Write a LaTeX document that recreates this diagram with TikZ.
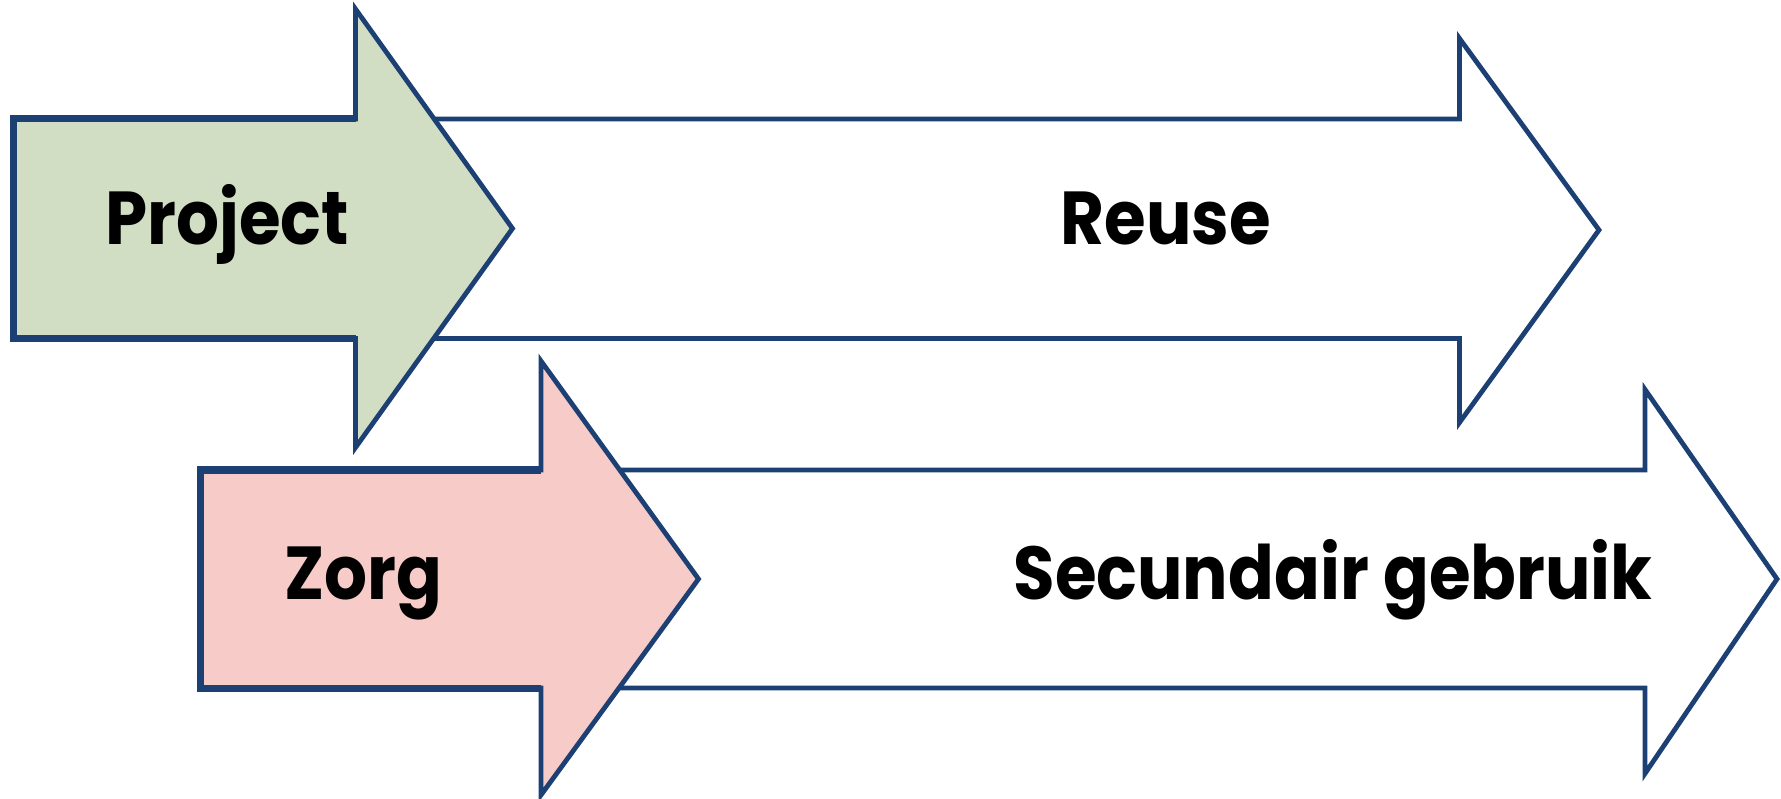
\documentclass[tikz,border=0pt]{standalone}
\usepackage{fontspec}
\setmainfont{Poppins}[BoldFont={* Bold}]
\definecolor{edge}{HTML}{1C3F74}
\definecolor{greenfill}{HTML}{D2DEC4}
\definecolor{pinkfill}{HTML}{F6CBC8}
\tikzset{
  outline/.style={draw=edge, line width=4.8pt, line join=miter, miter limit=20},
  thickside/.style={draw=edge, line width=7pt, line join=miter, line cap=butt},
  whitearrow/.style={outline, fill=white},
  greenarrow/.style={outline, fill=greenfill},
  pinkarrow/.style={outline, fill=pinkfill},
  lbl/.style={anchor=base, inner sep=0pt, transform shape, xscale=0.9, font=\bfseries\fontsize{75}{80}\selectfont, text=black}
}
\begin{document}
\begin{tikzpicture}[x=1pt, y=-1pt]
\useasboundingbox (0,0) rectangle (1781,799);
% Reuse arrow (white, behind)
\draw[whitearrow] (300,119) -- (1459.5,119) -- (1459.5,38.5) -- (1599,230) -- (1459.5,422.5) -- (1459.5,338.5) -- (300,338.5) -- cycle;
% Project arrow (green)
\draw[greenarrow] (13.6,119) -- (355.5,119) -- (355.5,9) -- (512.5,228.5) -- (355.5,447.5) -- (355.5,338.5) -- (13.6,338.5) -- cycle;
\draw[thickside] (355.5,119) -- (13.6,119) -- (13.6,338.5) -- (355.5,338.5);
% Secundair gebruik arrow (white, behind)
\draw[whitearrow] (480,470) -- (1645,470) -- (1645,389.5) -- (1777,579) -- (1645,773.5) -- (1645,688) -- (480,688) -- cycle;
% Zorg arrow (pink)
\draw[pinkarrow] (200,470) -- (541,470) -- (541,361) -- (698.5,579) -- (541,795) -- (541,688) -- (200,688) -- cycle;
\draw[thickside] (541,470) -- (200,470) -- (200,688) -- (541,688);
% labels
\node[lbl] (project) at (227,245) {Project};
\node[lbl] (reuse) at (1166,245) {Reuse};
\node[lbl] (zorg) at (363,599) {Zorg};
\node[lbl] (secundair) at (1333,599) {Secundair gebruik};
\end{tikzpicture}
\end{document}
